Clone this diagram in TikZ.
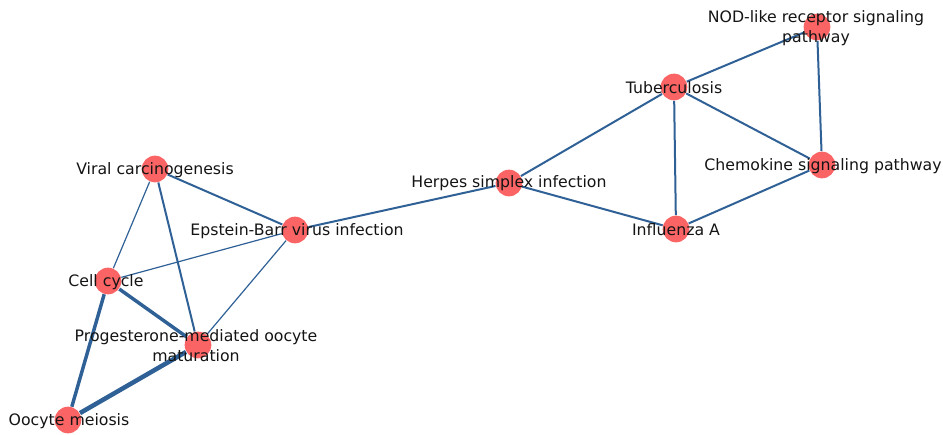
\documentclass[tikz,border=0pt]{standalone}
\usepackage{fontspec}
\setmainfont{DejaVu Sans}
\usetikzlibrary{backgrounds}

\definecolor{nodered}{RGB}{250,100,100}
\definecolor{edgeblue}{RGB}{47,97,150}

\tikzset{every picture/.style={line width=0.75pt},
	pathway/.style={circle,fill=nodered,draw=none,inner sep=0pt,minimum size=20pt},
	lbl/.style={font=\fontsize{11.8}{15}\selectfont,inner sep=0pt,align=center,text=black!92},
	lnk/.style={draw=edgeblue,line width=0.9pt},
	lnkmid/.style={draw=edgeblue,line width=1.5pt},
	lnkbig/.style={draw=edgeblue,line width=2.6pt},
	lnkhuge/.style={draw=edgeblue,line width=3.4pt}}

\begin{document}
\begin{tikzpicture}[x=0.75pt,y=0.75pt,yscale=-1,xscale=1]
	\useasboundingbox (0,0) rectangle (943,435);

	%Nodes
	\node[pathway] (viral) at (155,169) {};
	\node[pathway] (ebv) at (295,230) {};
	\node[pathway] (cell) at (108,281) {};
	\node[pathway] (prog) at (198,345) {};
	\node[pathway] (oocyte) at (68,420) {};
	\node[pathway] (herpes) at (509,183) {};
	\node[pathway] (tb) at (674,87) {};
	\node[pathway] (flu) at (676,229) {};
	\node[pathway] (nod) at (817,27) {};
	\node[pathway] (chemo) at (822,165) {};

	%Edges
	\begin{scope}[on background layer]
		\draw[lnkmid] (viral) -- (ebv);
		\draw[lnk] (viral) -- (cell);
		\draw[lnkmid] (viral) -- (prog);
		\draw[lnk] (ebv) -- (cell);
		\draw[lnk] (ebv) -- (prog);
		\draw[lnkmid] (ebv) -- (herpes);
		\draw[lnkbig] (cell) -- (prog);
		\draw[lnkbig] (cell) -- (oocyte);
		\draw[lnkhuge] (prog) -- (oocyte);
		\draw[lnkmid] (herpes) -- (tb);
		\draw[lnkmid] (herpes) -- (flu);
		\draw[lnkmid] (tb) -- (flu);
		\draw[lnkmid] (tb) -- (nod);
		\draw[lnkmid] (tb) -- (chemo);
		\draw[lnkmid] (nod) -- (chemo);
		\draw[lnkmid] (chemo) -- (flu);
	\end{scope}

	% Text Node
	\node[lbl] (viraltxt) at (155,170) {Viral carcinogenesis};
	% Text Node
	\node[lbl] (ebvtxt) at (297,231) {Epstein-Barr virus infection};
	% Text Node
	\node[lbl] (celltxt) at (106,282) {Cell cycle};
	% Text Node
	\node[lbl] (progtxt) at (196,346) {Progesterone-mediated oocyte\\maturation};
	% Text Node
	\node[lbl] (oocytetxt) at (69,421) {Oocyte meiosis};
	% Text Node
	\node[lbl] (herpestxt) at (509,183) {Herpes simplex infection};
	% Text Node
	\node[lbl] (tbtxt) at (674,88) {Tuberculosis};
	% Text Node
	\node[lbl] (flutxt) at (676,230) {Influenza A};
	% Text Node
	\node[lbl] (nodtxt) at (816,28) {NOD-like receptor signaling\\pathway};
	% Text Node
	\node[lbl] (chemotxt) at (823,166) {Chemokine signaling pathway};

\end{tikzpicture}
\end{document}
